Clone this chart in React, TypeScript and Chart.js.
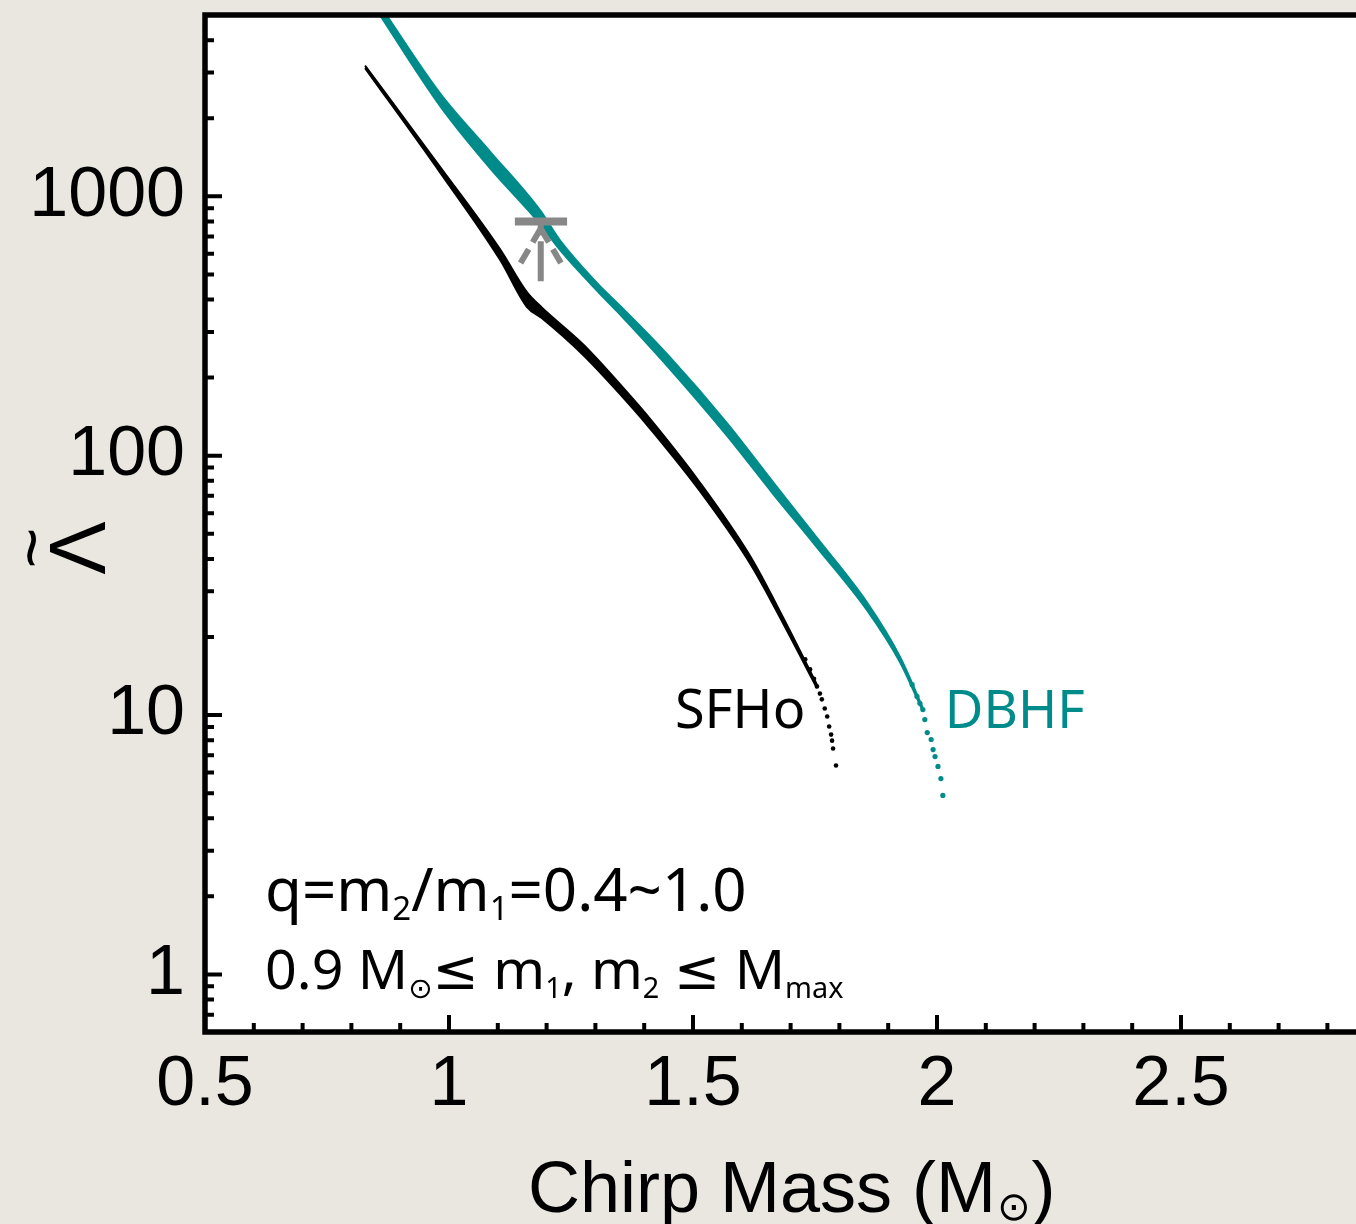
import React, { useEffect, useRef } from "react";
import { Chart, registerables } from "chart.js";

Chart.register(...registerables);

// ---- axes ----
const X_MIN = 0.5;
const X_MAX = 3.0;
const X_TICK_STEP = 0.5;
const Y_MIN = 0.6;
const Y_MAX = 5000;
const Y_LABELED = [1, 10, 100, 1000];

// ---- SFHo band (chirp mass vs tidal deformability, upper / lower edge over q) ----
const sfhoMc = [0.828, 0.982, 1.105, 1.16, 1.19, 1.275, 1.377, 1.412, 1.514, 1.617, 1.684, 1.754];
const sfhoLambdaHi = [3190, 1296, 623, 426, 372.7, 268.3, 165.4, 138.5, 78.8, 41.0, 23.9, 13.1];
const sfhoLambdaLo = [3120, 1234, 568, 374, 339.5, 244.4, 152.0, 127.3, 73.1, 38.4, 22.7, 12.7];
const sfhoTailMc = [1.73, 1.74, 1.748, 1.754, 1.76, 1.764, 1.77, 1.775, 1.779, 1.783, 1.785, 1.787, 1.793];
const sfhoTailLambda = [16.4, 15.0, 13.8, 12.9, 12.1, 11.5, 10.6, 9.87, 9.03, 8.41, 7.97, 7.43, 6.39];

// ---- DBHF band ----
const dbhfMc = [0.85, 0.982, 1.084, 1.186, 1.227, 1.309, 1.344, 1.447, 1.57, 1.662, 1.754, 1.857, 1.924, 1.971];
const dbhfLambdaHi = [5757, 2488, 1488, 886, 678, 451, 389, 246, 133.2, 79.9, 48.2, 27.1, 16.8, 10.66];
const dbhfLambdaLo = [5291, 2227, 1285, 785, 623, 422, 361, 222, 119.2, 72.1, 44.3, 25.3, 16.0, 10.34];
const dbhfTailMc = [1.949, 1.959, 1.965, 1.971, 1.975, 1.98, 1.988, 1.992, 1.996, 2.002, 2.008, 2.012];
const dbhfTailLambda = [13.1, 11.8, 11.1, 10.5, 9.61, 8.56, 8.05, 7.36, 6.92, 6.34, 5.69, 4.9];

// ---- GW170817 upper limit ----
const gwMc = 1.188;
const gwBarMc = [1.135, 1.242];
const gwLambdaUpper = 800;
const gwLambdaStemLow = 470;

// ---- labels ----
const sfhoLabel = { text: "SFHo", mc: 1.463, lambda: 8.95 };
const dbhfLabel = { text: "DBHF", mc: 2.016, lambda: 8.95 };
const noteLine1Pos = { mc: 0.623, lambda: 1.75 };
const noteLine2Pos = { mc: 0.623, lambda: 0.875 };

const TEAL = "#008b8b";
const GRAY = "#878787";
const TICK_FONT = '"Liberation Sans", Arial, sans-serif';
const NOTE_FONT = '"Noto Sans", "DejaVu Sans", sans-serif';

type Seg = { t: string; sub?: boolean };
const noteLine1: Seg[] = [
  { t: "q=m" }, { t: "2", sub: true }, { t: "/m" }, { t: "1", sub: true }, { t: "=0.4~1.0" },
];
const noteLine2: Seg[] = [
  { t: "0.9 M" }, { t: "⊙", sub: true }, { t: "≤ m" }, { t: "1", sub: true }, { t: ", m" },
  { t: "2", sub: true }, { t: " ≤ M" }, { t: "max", sub: true },
];

function drawRich(
  ctx: CanvasRenderingContext2D,
  x: number,
  y: number,
  segs: Seg[],
  size: number,
  subScale: number,
  family: string
) {
  let cx = x;
  for (const s of segs) {
    const fs = s.sub ? size * subScale : size;
    ctx.font = `${fs}px ${family}`;
    ctx.fillText(s.t, cx, y + (s.sub ? size * 0.15 : 0));
    cx += ctx.measureText(s.t).width;
  }
}

const framePlugin = {
  id: "framePlugin",
  beforeDraw(chart: any) {
    const { ctx, chartArea: a } = chart;
    ctx.save();
    ctx.fillStyle = "#ffffff";
    ctx.fillRect(a.left, a.top, a.right - a.left, a.bottom - a.top);
    ctx.restore();
  },
  afterDatasetsDraw(chart: any) {
    const { ctx } = chart;
    const xs = chart.scales.x;
    const ys = chart.scales.y;
    ctx.save();
    // arrowhead of the upper-limit marker
    const ax = xs.getPixelForValue(gwMc);
    const ay = ys.getPixelForValue(gwLambdaUpper) + 7;
    ctx.strokeStyle = GRAY;
    ctx.lineWidth = 6;
    ctx.setLineDash([16, 8]);
    ctx.beginPath();
    ctx.moveTo(ax, ay);
    ctx.lineTo(ax - 21, ay + 36);
    ctx.moveTo(ax, ay);
    ctx.lineTo(ax + 21, ay + 36);
    ctx.stroke();
    ctx.setLineDash([]);

    // curve labels
    ctx.textAlign = "left";
    ctx.textBaseline = "alphabetic";
    ctx.font = `54px ${NOTE_FONT}`;
    ctx.fillStyle = "#000";
    ctx.fillText(sfhoLabel.text, xs.getPixelForValue(sfhoLabel.mc), ys.getPixelForValue(sfhoLabel.lambda));
    ctx.font = `53px ${NOTE_FONT}`;
    ctx.fillStyle = TEAL;
    ctx.fillText(dbhfLabel.text, xs.getPixelForValue(dbhfLabel.mc), ys.getPixelForValue(dbhfLabel.lambda));

    ctx.fillStyle = "#000";
    drawRich(ctx, xs.getPixelForValue(noteLine1Pos.mc), ys.getPixelForValue(noteLine1Pos.lambda), noteLine1, 60, 0.55, NOTE_FONT);
    drawRich(ctx, xs.getPixelForValue(noteLine2Pos.mc), ys.getPixelForValue(noteLine2Pos.lambda), noteLine2, 55.5, 0.52, NOTE_FONT);
    ctx.restore();
  },
  afterDraw(chart: any) {
    const { ctx, chartArea: a } = chart;
    const xs = chart.scales.x;
    const ys = chart.scales.y;
    ctx.save();
    ctx.strokeStyle = "#000";
    // ticks (inward)
    ctx.lineWidth = 4;
    ctx.beginPath();
    for (let e = -1; e <= 3; e++) {
      for (let k = 1; k <= 9; k++) {
        const v = k * Math.pow(10, e);
        if (v < Y_MIN - 1e-9 || v > Y_MAX + 1e-9) continue;
        const py = ys.getPixelForValue(v);
        const len = k === 1 ? 17 : 9;
        ctx.moveTo(a.left, py);
        ctx.lineTo(a.left + len, py);
        ctx.moveTo(a.right, py);
        ctx.lineTo(a.right - len, py);
      }
    }
    for (let i = Math.round(X_MIN * 10); i <= Math.round(X_MAX * 10); i++) {
      const px = xs.getPixelForValue(i / 10);
      const len = i % 5 === 0 ? 17 : 9;
      ctx.moveTo(px, a.bottom);
      ctx.lineTo(px, a.bottom - len);
    }
    ctx.stroke();
    // frame
    ctx.lineWidth = 5.5;
    ctx.lineJoin = "miter";
    ctx.strokeRect(a.left, a.top, a.right - a.left, a.bottom - a.top);

    // x title
    ctx.fillStyle = "#000";
    ctx.textAlign = "left";
    ctx.textBaseline = "alphabetic";
    ctx.font = `72px ${TICK_FONT}`;
    const t1 = "Chirp Mass (M";
    let x = 528;
    const by = 1212;
    ctx.fillText(t1, x, by);
    x += ctx.measureText(t1).width + 1;
    ctx.font = `40px "DejaVu Sans", sans-serif`;
    ctx.fillText("⊙", x, by + 8);
    x += ctx.measureText("⊙").width + 1;
    ctx.font = `72px ${TICK_FONT}`;
    ctx.fillText(")", x, by);

    // y title: rotated Lambda with tilde
    ctx.translate(105, 548);
    ctx.rotate(-Math.PI / 2);
    ctx.textAlign = "center";
    ctx.font = `80px ${TICK_FONT}`;
    ctx.fillText("Λ", 0, 0);
    ctx.font = `70px ${TICK_FONT}`;
    ctx.fillText("~", 0, -50);
    ctx.restore();
  },
};

export default function App() {
  const ref = useRef<HTMLCanvasElement | null>(null);
  useEffect(() => {
    if (!ref.current) return;
    const pts = (xs: number[], ys: number[]) => xs.map((x, i) => ({ x, y: ys[i] }));
    const band = (label: string, xs: number[], hi: number[], lo: number[], color: string) => [
      {
        label: label + " hi",
        data: pts(xs, hi),
        borderColor: color,
        backgroundColor: color,
        borderWidth: 2,
        pointRadius: 0,
        fill: false,
        cubicInterpolationMode: "monotone" as const,
        order: 2,
      },
      {
        label: label + " lo",
        data: pts(xs, lo),
        borderColor: color,
        backgroundColor: color,
        borderWidth: 2,
        pointRadius: 0,
        fill: "-1",
        cubicInterpolationMode: "monotone" as const,
        order: 2,
      },
    ];
    const tail = (label: string, xs: number[], ys: number[], color: string, r: number) => ({
      label,
      data: pts(xs, ys),
      showLine: false,
      pointRadius: r,
      pointBorderWidth: 0,
      pointBackgroundColor: color,
      borderColor: color,
      order: 2,
    });
    const chart = new Chart(ref.current, {
      type: "line",
      data: {
        datasets: [
          ...band("SFHo", sfhoMc, sfhoLambdaHi, sfhoLambdaLo, "#000000"),
          tail("SFHo tail", sfhoTailMc, sfhoTailLambda, "#000000", 2.3),
          ...band("DBHF", dbhfMc, dbhfLambdaHi, dbhfLambdaLo, TEAL),
          tail("DBHF tail", dbhfTailMc, dbhfTailLambda, TEAL, 2.6),
          {
            label: "GW bar",
            data: gwBarMc.map((x) => ({ x, y: gwLambdaUpper })),
            borderColor: GRAY,
            borderWidth: 8,
            pointRadius: 0,
            fill: false,
            order: 0,
          },
          {
            label: "GW stem",
            data: [
              { x: gwMc, y: gwLambdaStemLow },
              { x: gwMc, y: gwLambdaUpper },
            ],
            borderColor: GRAY,
            borderWidth: 6,
            borderDash: [40, 6],
            pointRadius: 0,
            fill: false,
            order: 0,
          },
        ] as any,
      },
      options: {
        responsive: false,
        animation: false,
        layout: { padding: { top: 15, right: 75, left: 0, bottom: 0 } },
        plugins: {
          legend: { display: false },
          tooltip: { enabled: false },
          title: { display: false },
        },
        scales: {
          x: {
            type: "linear",
            min: X_MIN,
            max: X_MAX,
            grid: { display: false, drawTicks: false },
            border: { display: false },
            ticks: {
              stepSize: X_TICK_STEP,
              autoSkip: false,
              maxRotation: 0,
              padding: 12,
              color: "#000",
              font: { family: TICK_FONT, size: 70 },
              callback: (v: any) => String(Number(Number(v).toFixed(2))),
            },
            afterFit: (s: any) => {
              s.height = 192;
              s.paddingLeft = 0;
              s.paddingRight = 0;
            },
          },
          y: {
            type: "logarithmic",
            min: Y_MIN,
            max: Y_MAX,
            grid: { display: false, drawTicks: false },
            border: { display: false },
            ticks: {
              autoSkip: false,
              padding: 20,
              color: "#000",
              font: { family: TICK_FONT, size: 70 },
              callback: (v: any) => {
                const n = Number(v);
                return Y_LABELED.some((t) => Math.abs(t - n) < 1e-6 * t) ? String(Math.round(n)) : "";
              },
            },
            afterFit: (s: any) => {
              s.width = 205;
              s.paddingTop = 0;
              s.paddingBottom = 0;
            },
          },
        },
      } as any,
      plugins: [framePlugin],
    });
    return () => chart.destroy();
  }, []);

  return (
    <div
      style={{
        position: "fixed",
        left: 0,
        top: 0,
        width: 1356,
        height: 1224,
        overflow: "hidden",
        background: "#e9e7df",
      }}
    >
      <canvas ref={ref} width={1500} height={1224} style={{ display: "block" }} />
    </div>
  );
}
